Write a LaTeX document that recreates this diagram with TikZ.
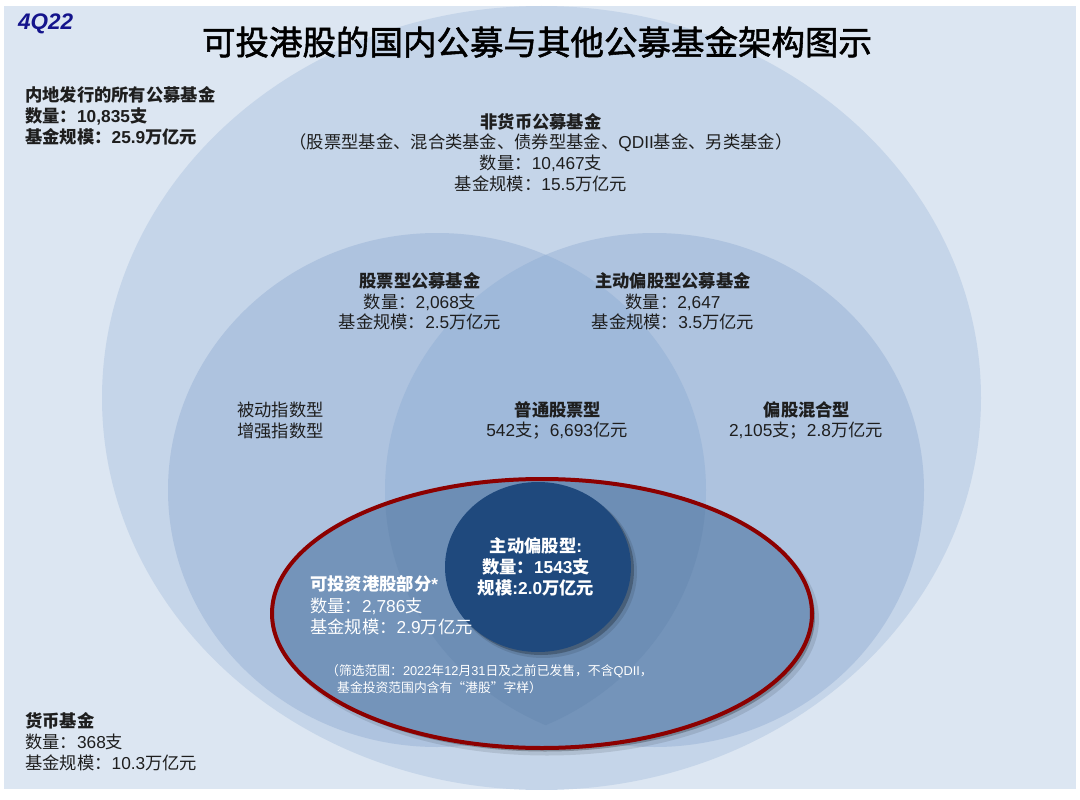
\documentclass[tikz,border=0pt]{standalone}
\usepackage{fontspec}
\setmainfont{Liberation Sans}
\newfontfamily\cjkfont{Noto Sans CJK SC}
\newfontfamily\cjktitlefont{Noto Sans CJK SC}[FakeBold=1.6]
\XeTeXinterchartokenstate=1
\chardef\CJKcls=100
\count255="3000 \loop \XeTeXcharclass\count255=\CJKcls \ifnum\count255<"303F \advance\count255 1 \repeat
\count255="4E00 \loop \XeTeXcharclass\count255=\CJKcls \ifnum\count255<"9FFF \advance\count255 1 \repeat
\count255="FF00 \loop \XeTeXcharclass\count255=\CJKcls \ifnum\count255<"FFEF \advance\count255 1 \repeat
\XeTeXcharclass"201C=\CJKcls
\XeTeXcharclass"201D=\CJKcls
\def\cjksel{\cjkfont}
\XeTeXinterchartoks 0 \CJKcls = {\begingroup\cjksel}
\XeTeXinterchartoks 4095 \CJKcls = {\begingroup\cjksel}
\XeTeXinterchartoks \CJKcls 0 = {\endgroup}
\XeTeXinterchartoks \CJKcls 4095 = {\endgroup}
\definecolor{bgc}{RGB}{220,230,242}
\definecolor{outerc}{RGB}{197,213,233}
\definecolor{midc}{RGB}{174,195,223}
\definecolor{ovc}{RGB}{159,185,218}
\definecolor{hkc}{RGB}{116,148,186}
\definecolor{hkov}{RGB}{109,142,181}
\definecolor{darkc}{RGB}{31,73,125}
\definecolor{redc}{RGB}{140,0,0}
\definecolor{txt}{RGB}{30,30,30}
\definecolor{navyc}{RGB}{20,20,140}
\tikzset{
  lab/.style={inner sep=0pt, text=txt, font=\fontsize{17.3}{20}\selectfont},
  labb/.style={lab, font=\fontsize{17.3}{20}\selectfont\bfseries},
  wlab/.style={lab, text=white},
  wlabb/.style={labb, text=white},
  notelab/.style={inner sep=0pt, text=white, font=\fontsize{12.8}{15}\selectfont},
  shadowfill/.style={fill=black, opacity=0.25},
}
\begin{document}
\begin{tikzpicture}[x=1pt,y=-1pt]
\useasboundingbox (0,0) rectangle (1080,800);
\fill[bgc] (4,6) rectangle (1076,789);
\begin{scope}
  \clip (4,6) rectangle (1076,789);
  \fill[outerc] (541.5,398) ellipse [x radius=439.5pt, y radius=392pt];
\end{scope}
% two middle circles
\fill[midc] (437,490) ellipse [x radius=269pt, y radius=257pt];
\fill[midc] (654.5,490) ellipse [x radius=269.5pt, y radius=257pt];
\begin{scope}
  \clip (437,490) ellipse [x radius=269pt, y radius=257pt];
  \fill[ovc] (654.5,490) ellipse [x radius=269.5pt, y radius=257pt];
\end{scope}
% HK ellipse
\fill[black, opacity=0.1] (547,619) ellipse [x radius=272pt, y radius=136.5pt];
\fill[shadowfill] (545,617) ellipse [x radius=270pt, y radius=134.5pt];
\fill[hkc] (542,613.5) ellipse [x radius=270pt, y radius=134.5pt];
\begin{scope}
  \clip (542,613.5) ellipse [x radius=270pt, y radius=134.5pt];
  \clip (437,490) ellipse [x radius=269pt, y radius=257pt];
  \fill[hkov] (654.5,490) ellipse [x radius=269.5pt, y radius=257pt];
\end{scope}
\draw[redc, line width=4pt] (542,613.5) ellipse [x radius=270pt, y radius=134.5pt];
% dark circle
\fill[black, opacity=0.1] (543,572) ellipse [x radius=94pt, y radius=86pt];
\fill[shadowfill] (541,570) ellipse [x radius=93pt, y radius=85pt];
\fill[darkc] (538,567) ellipse [x radius=93pt, y radius=85pt];
% texts
\node[anchor=west, inner sep=0pt, text=navyc, font=\fontsize{22.5}{26}\selectfont\bfseries\itshape] (q4) at (18,24) {4Q22};
\node[inner sep=0pt, text=black, font=\fontsize{33.5}{40}\selectfont] (title) at (537,42) {\let\cjksel\cjktitlefont 可投港股的国内公募与其他公募基金架构图示};
\node[labb, anchor=west] (all1) at (25,95) {内地发行的所有公募基金};
\node[labb, anchor=west] (all2) at (25,116) {数量：10,835支};
\node[labb, anchor=west] (all3) at (25,137) {基金规模：25.9万亿元};
\node[labb] (nm1) at (541,122) {非货币公募基金};
\node[lab] (nm2) at (541,143) {（股票型基金、混合类基金、债券型基金、QDII基金、另类基金）};
\node[lab] (nm3) at (541,163) {数量：10,467支};
\node[lab] (nm4) at (541,184) {基金规模：15.5万亿元};
\node[labb] (st1) at (420,281) {股票型公募基金};
\node[lab] (st2) at (420,302) {数量：2,068支};
\node[lab] (st3) at (420,322) {基金规模：2.5万亿元};
\node[labb] (ac1) at (673,281) {主动偏股型公募基金};
\node[lab] (ac2) at (673,302) {数量：2,647};
\node[lab] (ac3) at (673,322) {基金规模：3.5万亿元};
\node[lab, anchor=west] (px1) at (237,410) {被动指数型};
\node[lab, anchor=west] (px2) at (237,431) {增强指数型};
\node[labb] (pt1) at (558,410) {普通股票型};
\node[lab] (pt2) at (557,431) {542支；6,693亿元};
\node[labb] (mx1) at (807,410) {偏股混合型};
\node[lab] (mx2) at (806,431) {2,105支；2.8万亿元};
\node[wlabb] (ae1) at (536,546) {主动偏股型:};
\node[wlabb] (ae2) at (536,567) {数量：1543支};
\node[wlabb] (ae3) at (536,588) {规模:2.0万亿元};
\node[wlabb, anchor=west] (hk1) at (310,584) {可投资港股部分*};
\node[wlab, anchor=west] (hk2) at (310,606) {数量：2,786支};
\node[wlab, anchor=west] (hk3) at (310,627) {基金规模：2.9万亿元};
\node[notelab, anchor=west] (nt1) at (326,671) {（筛选范围：2022年12月31日及之前已发售，不含QDII，};
\node[notelab, anchor=west] (nt2) at (337,688) {基金投资范围内含有“港股”字样）};
\node[labb, anchor=west] (mf1) at (25,721) {货币基金};
\node[lab, anchor=west] (mf2) at (25,742) {数量：368支};
\node[lab, anchor=west] (mf3) at (25,763) {基金规模：10.3万亿元};
\end{tikzpicture}
\end{document}
